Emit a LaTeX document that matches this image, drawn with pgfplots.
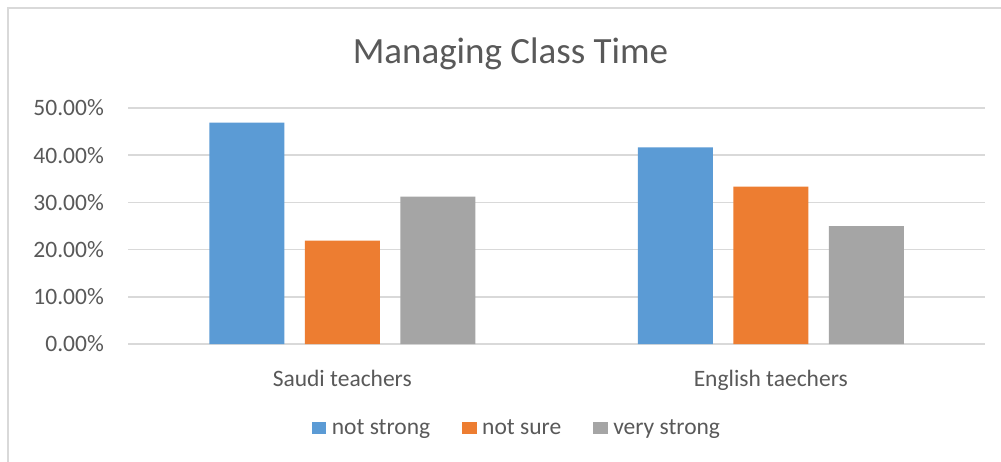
\documentclass[border=0pt]{standalone}
\usepackage{fontspec}
\setmainfont{Carlito}
\usepackage{pgfplots}
\pgfplotsset{compat=1.18}
\definecolor{txt}{HTML}{595959}
\definecolor{gridc}{HTML}{D9D9D9}
\definecolor{cblue}{HTML}{5B9BD5}
\definecolor{corange}{HTML}{ED7D31}
\definecolor{cgray}{HTML}{A5A5A5}
\begin{document}
\begin{tikzpicture}
\path[use as bounding box] (0,0) rectangle (1001pt,-461pt);
\fill[white] (0,0) rectangle (1001pt,-461pt);
\begin{scope}
\clip (0,0) rectangle (1001pt,-461pt);
\draw[line width=1.5pt, draw=gridc] (8pt,-8pt) rectangle (1013pt,-470pt);
\end{scope}
\node[font=\fontsize{37}{44}\selectfont, text=txt, anchor=base, inner sep=0pt] at (510.5pt,-63.3pt) {Managing Class Time};
\begin{axis}[
  at={(128pt,-344pt)}, anchor=south west,
  scale only axis, width=857pt, height=236pt,
  xmin=-0.5, xmax=1.5, ymin=0, ymax=50,
  ybar, bar width=75pt,
  axis line style={draw=none},
  major tick style={draw=none},
  ymajorgrids, major grid style={draw=gridc, line width=1.5pt},
  ytick={0,10,20,30,40,50},
  yticklabels={0.00\%,10.00\%,20.00\%,30.00\%,40.00\%,50.00\%},
  xtick={0,1},
  xticklabels={Saudi teachers, English taechers},
  ticklabel style={font=\fontsize{23.5}{28}\selectfont, text=txt},
  yticklabel style={anchor=east, inner sep=0pt, xshift=-24pt},
  xticklabel style={anchor=base, inner sep=0pt, yshift=-38pt},
  legend columns=3,
  legend style={at={(0.4527,-0.356)}, anchor=center, draw=none,
    font=\fontsize{23.5}{28}\selectfont, text=txt,
    column sep=0pt,
    /tikz/every odd column/.append style={column sep=5.5pt},
    /tikz/every even column/.append style={column sep=32pt},
    nodes={inner sep=0pt}},
  legend image code/.code={\fill[#1,draw=none] (0pt,-5.8pt) rectangle (14.5pt,5.8pt);},
]
\addplot[fill=cblue, draw=none, bar shift=-95.5pt] coordinates {(0,46.88) (1,41.67)};
\addplot[fill=corange, draw=none, bar shift=0pt] coordinates {(0,21.88) (1,33.33)};
\addplot[fill=cgray, draw=none, bar shift=95.5pt] coordinates {(0,31.25) (1,25.00)};
\legend{not strong, not sure, very strong}
\end{axis}
\end{tikzpicture}
\end{document}
